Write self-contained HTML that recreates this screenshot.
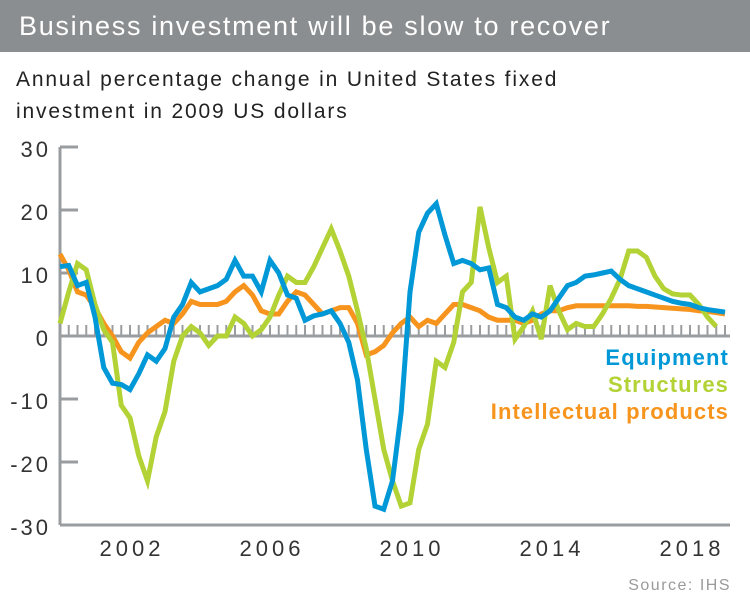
<!DOCTYPE html>
<html><head><meta charset="utf-8"><style>
body{margin:0;width:750px;height:595px;background:#fff;font-family:"Liberation Sans",sans-serif;overflow:hidden}
#hdr{position:absolute;left:0;top:0;width:750px;height:52px;background:#8b8e90;color:#fff;font-size:27px;line-height:52px;padding-left:19px;box-sizing:border-box;letter-spacing:1.7px;white-space:nowrap}
#sub{position:absolute;left:16px;top:64px;font-size:21px;line-height:32px;color:#222;letter-spacing:1.85px;white-space:nowrap}
svg{position:absolute;left:0;top:0}
</style></head><body>
<div id="hdr">Business investment will be slow to recover</div>
<div id="sub">Annual percentage change in United States fixed<br>investment in 2009 US dollars</div>
<svg id="chart" width="750" height="595"></svg>
<script>
const startYear = 2000;
const yTicks = [30,20,10,0,-10,-20,-30];
const xTickLabels = [2002,2006,2010,2014,2018];
const equipment = [11,11.2,8,8.5,3,-5,-7.5,-7.7,-8.5,-6,-3,-4,-2,3,5,8.5,7,7.5,8,9,12,9.5,9.5,7,12,10,6.5,6,2.5,3.2,3.5,4,2,-1,-7,-18,-27,-27.5,-23,-12,7,16.5,19.5,21,16,11.5,12,11.5,10.5,10.8,5,4.5,3,2.5,3.5,3,4,6,8,8.5,9.5,9.7,10,10.3,9,8,7.5,7,6.5,6,5.5,5.2,5,4.5,4.2,4,3.8];
const structures = [2,7,11.5,10.5,5,1,-1,-11,-13,-19,-23,-16,-12,-4,0,1.5,0.5,-1.5,0,0,3,2,0,1,3,6.5,9.5,8.5,8.5,11,14,17,13.5,9.5,4,-2,-10,-18,-23,-27,-26.5,-18,-14,-4,-5,-1,7,8.5,20.5,14,8.5,9.5,-0.5,1.5,4,-0.5,8,4,1,2,1.5,1.5,3.5,6,9,13.5,13.5,12.5,9.5,7.5,6.7,6.5,6.5,5,3,1.5];
const intellectual = [13,10.5,7,6.5,4.5,2,0,-2.5,-3.5,-1,0.5,1.5,2.5,2,3.5,5.5,5,5,5,5.5,7,8,6.5,4,3.5,3.5,5.5,7,6.5,5,3.5,4,4.5,4.5,2,-3,-2.5,-1.5,0.5,2,3,1.5,2.5,2,3.5,5,5,4.5,4,3,2.5,2.5,2.5,2,2.5,3.5,4,4,4.5,4.8,4.8,4.8,4.8,4.8,4.8,4.8,4.7,4.7,4.6,4.5,4.4,4.3,4.2,4,3.9,3.7,3.5];

const NS="http://www.w3.org/2000/svg";
const svg=document.getElementById('chart');
const X0=60,PXY=35,Y0=336,PXV=6.3;
const xs=i=>X0+PXY*(i/4);
const xYear=t=>X0+PXY*(t-startYear);
const ys=v=>Y0-v*PXV;
function mk(tag,a){const e=document.createElementNS(NS,tag);for(const k in a)e.setAttribute(k,a[k]);svg.appendChild(e);return e;}
const grey="#9a9d9f";
let e=mk('line',{x1:X0,y1:ys(30),x2:X0,y2:ys(-30),stroke:grey,'stroke-width':3});

yTicks.forEach(v=>{
 let t=mk('line',{x1:X0,y1:ys(v),x2:X0+18,y2:ys(v),stroke:grey,'stroke-width':3});
 
 let l=mk('text',{x:X0-9,y:ys(v)+10,'text-anchor':'end','font-size':22,fill:'#333','letter-spacing':3});
 l.textContent=v;
 
});
e=mk('line',{x1:X0,y1:ys(-30),x2:730,y2:ys(-30),stroke:grey,'stroke-width':3});

e=mk('line',{x1:X0,y1:Y0,x2:730,y2:Y0,stroke:grey,'stroke-width':3});

for(let i=0;i<=76;i++){
 let t=mk('line',{x1:xs(i),y1:Y0-11,x2:xs(i),y2:Y0,stroke:grey,'stroke-width':2});
 
}
xTickLabels.forEach(y=>{
 let l=mk('text',{x:xYear(y)+2,y:556,'text-anchor':'middle','font-size':22,fill:'#333','letter-spacing':4});
 l.textContent=y;
 
});
function line(arr,color,name){
 const p=mk('polyline',{points:arr.map((v,i)=>xs(i)+','+ys(v)).join(' '),fill:'none',stroke:color,'stroke-width':5,'stroke-linejoin':'miter'});
 
}
line(intellectual,'#f7941d','intellectual-line');
line(structures,'#b2d235','structures-line');
line(equipment,'#0098d6','equipment-line');
const leg=[['Equipment','#0098d6',365],['Structures','#b2d235',392],['Intellectual products','#f7941d',419]];
leg.forEach(([t,c,y])=>{
 let l=mk('text',{x:729,y:y,'text-anchor':'end','font-size':22,'font-weight':'bold',fill:c,'letter-spacing':1.1});
 l.textContent=t;
 
});
e=mk('text',{x:731,y:590,'text-anchor':'end','font-size':16,fill:'#9a9a9a','letter-spacing':1.5});
e.textContent='Source: IHS';

</script>
</body></html>
